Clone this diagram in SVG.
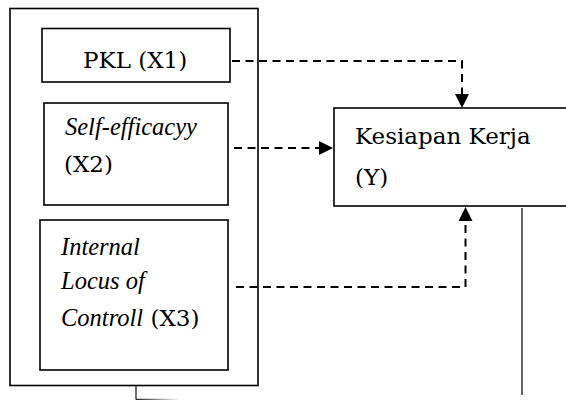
<svg xmlns="http://www.w3.org/2000/svg" width="566" height="400" viewBox="0 0 566 400">
<style>
.box{fill:#fff;stroke:#000;stroke-width:1.6}
.t{font-family:"DejaVu Serif","Liberation Serif",serif;font-size:23px;fill:#000}
.i{font-family:"Liberation Serif","DejaVu Serif",serif;font-style:italic;font-size:24.5px}
.d{fill:none;stroke:#000;stroke-width:2;stroke-dasharray:8,5.5}
</style>
<defs>
<marker id="ah" viewBox="0 0 10 10" refX="10" refY="5" markerWidth="15" markerHeight="14" markerUnits="userSpaceOnUse" orient="auto">
<path d="M0,0 L10,5 L0,10 Z" fill="#000"/>
</marker>
<linearGradient id="fade" gradientUnits="userSpaceOnUse" x1="136" y1="0" x2="180" y2="0">
<stop offset="0" stop-color="#222"/>
<stop offset="1" stop-color="#fff"/>
</linearGradient>
</defs>
<rect width="566" height="400" fill="#fff"/>
<g id="outer">
<rect class="box" x="10" y="8.5" width="248" height="377"/>
</g>
<g id="x1">
<rect class="box" x="42" y="28.5" width="188" height="53.5"/>
<text class="t" x="83" y="68">PKL (X1)</text>
</g>
<g id="x2">
<rect class="box" x="44" y="103" width="184" height="102"/>
<text class="t" x="65" y="135"><tspan class="i">Self-efficacyy</tspan></text>
<text class="t" x="64" y="172">(X2)</text>
</g>
<g id="x3">
<rect class="box" x="40" y="220" width="188" height="150"/>
<text class="t i" x="61" y="255">Internal</text>
<text class="t i" x="61" y="289">Locus of</text>
<text class="t" x="61" y="326"><tspan class="i">Controll</tspan> (X3)</text>
</g>
<g id="y">
<rect class="box" x="334" y="108" width="240" height="98"/>
<text class="t" x="355" y="144">Kesiapan Kerja</text>
<text class="t" x="355" y="185">(Y)</text>
</g>
<g id="connectors">
<path class="d" d="M232,61 H462 V95"/>
<path d="M462,94 V108" stroke="none" marker-end="url(#ah)"/>
<path class="d" d="M234,148 H320"/>
<path d="M319,148 H333" stroke="none" marker-end="url(#ah)"/>
<path class="d" d="M236,287 H465.5 V222"/>
<path d="M465.5,222 V207" stroke="none" marker-end="url(#ah)"/>
<line x1="522" y1="208" x2="522" y2="395" stroke="#222" stroke-width="1.4"/>
<line x1="136" y1="386" x2="136" y2="399.5" stroke="#222" stroke-width="1.3"/>
<line x1="136" y1="399.5" x2="182" y2="399.5" stroke="url(#fade)" stroke-width="1.3"/>
</g>
</svg>
